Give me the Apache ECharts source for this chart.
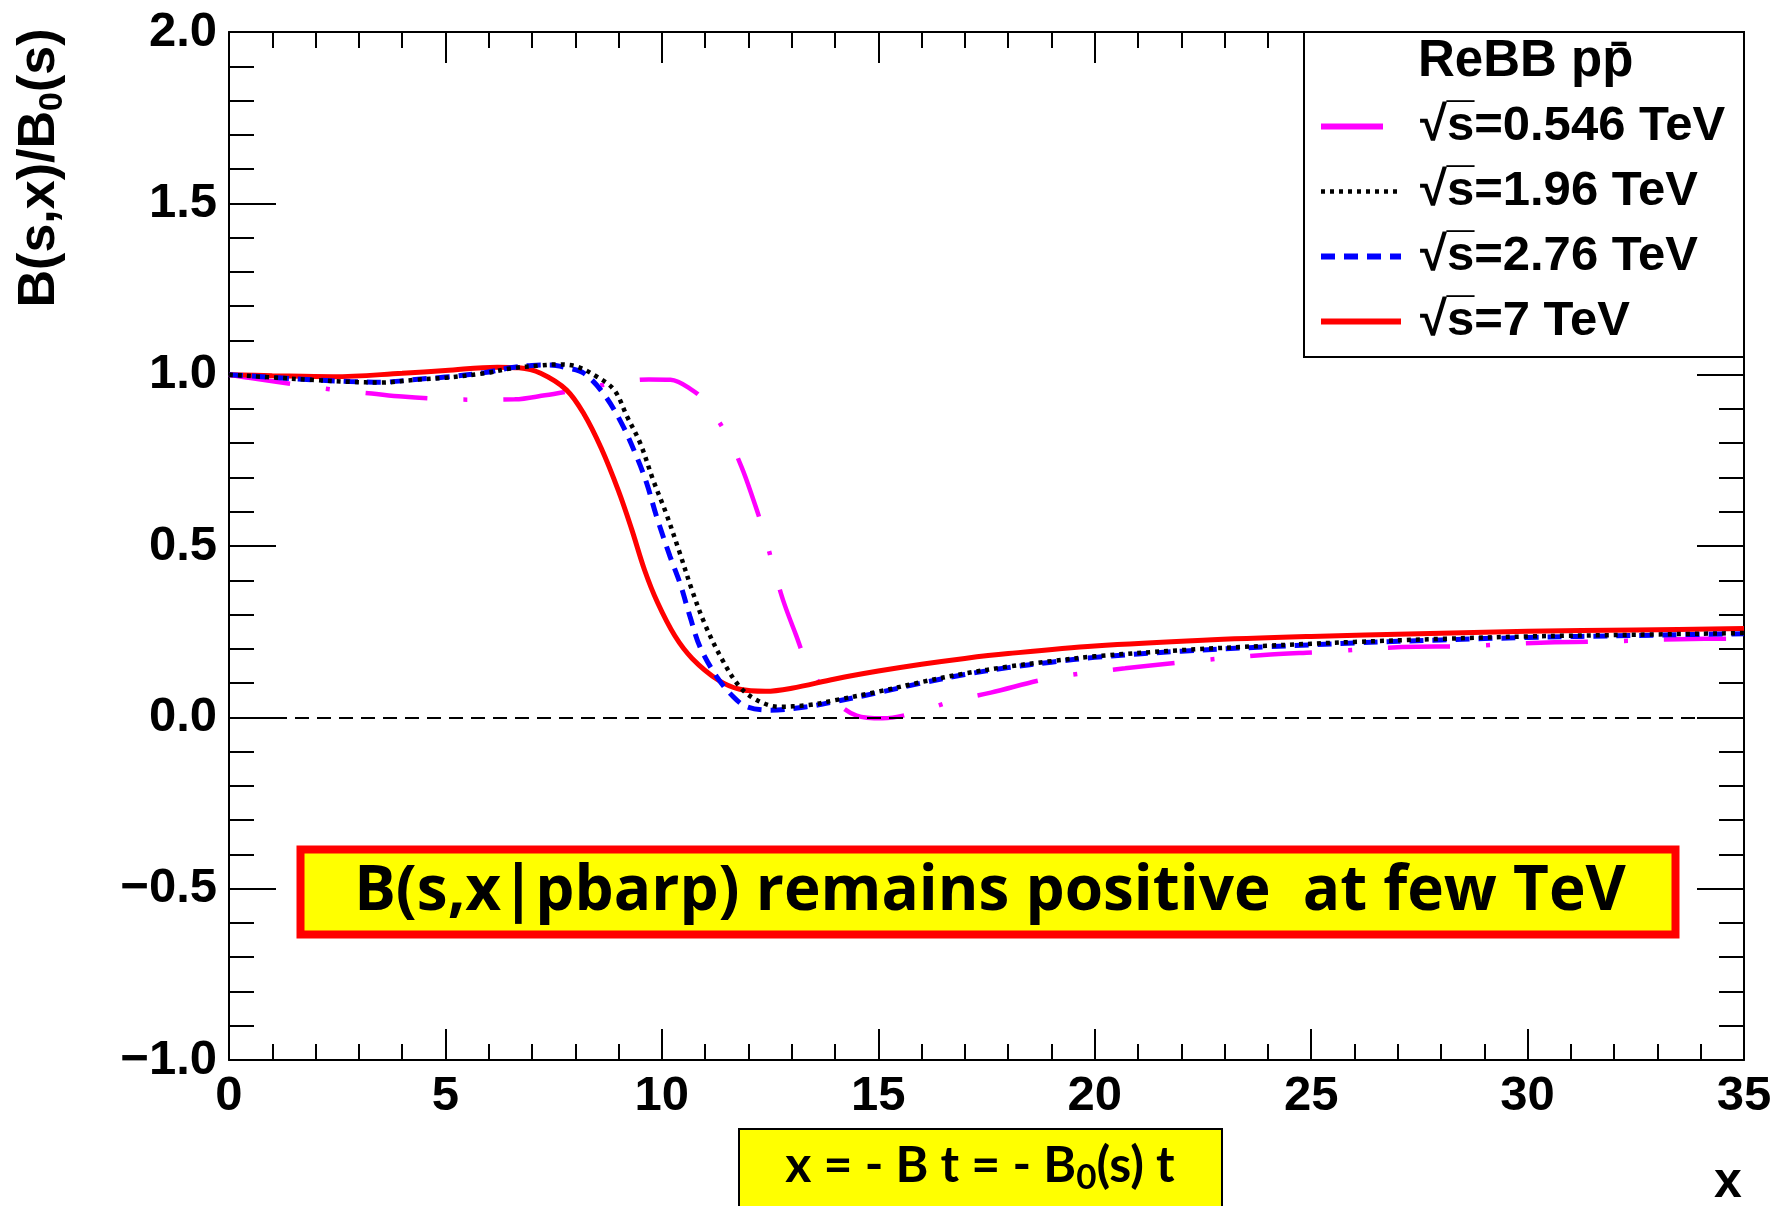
<!DOCTYPE html>
<html><head><meta charset="utf-8">
<script src="https://cdn.jsdelivr.net/npm/echarts@6/dist/echarts.min.js"></script>
<style>html,body{margin:0;padding:0;background:#fff}#c{width:1779px;height:1206px}</style>
</head><body><div id="c"></div>
<script>
// ---- data ----
const seriesNames = ['√s̅=0.546 TeV', '√s̅=1.96 TeV', '√s̅=2.76 TeV', '√s̅=7 TeV'];
const legendTitle = 'ReBB pp̄';

const x546 = [0, 0.5, 1.6, 2.5, 3.3, 4.0, 4.9, 5.7, 6.6, 7.3, 8.0, 8.9, 9.7, 10.2, 10.7, 11.0, 11.5, 11.84, 12.1, 12.34, 12.57, 12.8, 13.1, 13.35, 13.83, 14.5, 15.1, 15.8, 16.8, 17.6, 19.0, 20.7, 22.1, 23.9, 25.3, 27.1, 28.6, 30.3, 31.7, 33.5, 35.0];
const y546 = [1.0, 0.99, 0.97, 0.955, 0.945, 0.936, 0.929, 0.927, 0.928, 0.94, 0.955, 0.975, 0.986, 0.985, 0.955, 0.921, 0.824, 0.731, 0.64, 0.547, 0.442, 0.342, 0.24, 0.16, 0.07, 0.005, -0.003, 0.012, 0.05, 0.072, 0.115, 0.143, 0.162, 0.182, 0.191, 0.205, 0.208, 0.218, 0.221, 0.228, 0.23];

const x196 = [0, 1, 1.9, 2.8, 3.5, 4.3, 5.0, 5.9, 6.5, 7.2, 7.6, 8.0, 8.5, 8.9, 9.2, 9.5, 9.8, 10.1, 10.4, 10.7, 11.0, 11.4, 11.8, 12.2, 12.7, 13.4, 14.0, 15.0, 16.0, 17.0, 18.0, 19.0, 20.0, 22.0, 24.0, 26.0, 28.0, 30.0, 32.5, 35.0];
const y196 = [1.0, 0.992, 0.985, 0.979, 0.977, 0.985, 0.991, 1.004, 1.018, 1.027, 1.03, 1.025, 0.994, 0.955, 0.877, 0.80, 0.692, 0.595, 0.485, 0.37, 0.27, 0.167, 0.089, 0.05, 0.031, 0.036, 0.05, 0.075, 0.103, 0.128, 0.148, 0.164, 0.178, 0.196, 0.209, 0.22, 0.229, 0.236, 0.241, 0.246];

const x276 = [0, 1, 1.9, 2.8, 3.5, 4.3, 5.0, 5.9, 6.5, 7.0, 7.4, 7.8, 8.2, 8.65, 9.07, 9.42, 9.65, 9.88, 10.19, 10.42, 10.65, 10.88, 11.27, 11.65, 11.96, 12.5, 13.35, 14.0, 15.0, 16.0, 17.0, 18.0, 19.0, 20.0, 22.0, 24.0, 26.0, 28.0, 30.0, 32.5, 35.0];
const y276 = [1.0, 0.992, 0.985, 0.98, 0.978, 0.986, 0.993, 1.006, 1.02, 1.027, 1.028, 1.02, 1.004, 0.945, 0.858, 0.76, 0.683, 0.585, 0.469, 0.391, 0.294, 0.206, 0.118, 0.06, 0.031, 0.021, 0.031, 0.046, 0.072, 0.1, 0.125, 0.145, 0.161, 0.175, 0.193, 0.206, 0.217, 0.226, 0.233, 0.239, 0.244];

const x7 = [0, 1, 2.4, 4, 5, 6.2, 6.7, 7.2, 7.8, 8.2, 8.6, 9.0, 9.3, 9.6, 9.9, 10.3, 10.7, 11.3, 11.8, 12.4, 13.0, 14.0, 15.0, 16.0, 17.0, 18.0, 20.0, 22.5, 25.0, 27.5, 30.0, 32.5, 35.0];
const y7 = [1.0, 0.997, 0.994, 1.004, 1.012, 1.022, 1.020, 1.004, 0.955, 0.885, 0.785, 0.66, 0.55, 0.43, 0.335, 0.238, 0.172, 0.109, 0.082, 0.076, 0.085, 0.112, 0.135, 0.155, 0.172, 0.186, 0.208, 0.225, 0.236, 0.244, 0.251, 0.255, 0.259];

const xRange = [0, 35];
const yRange = [-1, 2];
const annotationText = 'B(s,x|pbarp) remains positive  at few TeV';
const xTitleBoxText = '{n|x = - B t = - B}{s|0}{n|(s) t}';
const yTitleText = '{n|B(s,x)/B}{s|0}{n|(s)}';

// ---- chart ----
const zip = (xs, ys) => xs.map((x, i) => [x, ys[i]]);
const F = 'Liberation Sans, Arial, sans-serif';
const F2 = 'Open Sans, Lato, sans-serif';
const F3 = 'Lato, Open Sans, sans-serif';
const chart = echarts.init(document.getElementById('c'), null, {renderer: 'canvas'});

function xAx(pos, showLabel) {
  return {
    type: 'value', min: xRange[0], max: xRange[1], interval: 5, position: pos,
    axisLine: {onZero: false, lineStyle: {color: '#000', width: 2}},
    axisTick: {inside: true, length: 31, lineStyle: {color: '#000', width: 2}},
    minorTick: {show: true, splitNumber: 5, length: 16, lineStyle: {color: '#000', width: 2}},
    splitLine: {show: false},
    axisLabel: {show: showLabel, margin: 12, color: '#000', fontSize: 49, fontWeight: 'bold', fontFamily: F}
  };
}
function yAx(pos, showLabel) {
  return {
    type: 'value', min: yRange[0], max: yRange[1], interval: 0.5, position: pos,
    axisLine: {onZero: false, lineStyle: {color: '#000', width: 2}},
    axisTick: {inside: true, length: 47, lineStyle: {color: '#000', width: 2}},
    minorTick: {show: true, splitNumber: 5, length: 25, lineStyle: {color: '#000', width: 2}},
    splitLine: {show: false},
    axisLabel: {show: showLabel, margin: 12, color: '#000', fontSize: 49, fontWeight: 'bold', fontFamily: F,
      formatter: v => v.toFixed(1).replace('-', '\u2212')}
  };
}

const lineCommon = {type: 'line', symbol: 'none', smooth: 0.35, silent: true, animation: false};
const colors = ['#ff00ff', '#000000', '#0000ff', '#ff0000'];

chart.setOption({
  backgroundColor: '#fff',
  animation: false,
  grid: {left: 229, right: 35, top: 32, bottom: 146},
  xAxis: [xAx('bottom', true), xAx('top', false)],
  yAxis: [yAx('left', true), yAx('right', false)],
  legend: {
    orient: 'vertical', left: 1313, top: 89, itemWidth: 80, itemHeight: 14, itemGap: 0,
    selectedMode: false, z: 10,
    itemStyle: {opacity: 0},
    textStyle: {fontSize: 49, fontWeight: 'bold', fontFamily: F, color: '#000', lineHeight: 65, padding: [0, 0, 0, 14]},
    data: [
      {name: seriesNames[0], lineStyle: {width: 6}},
      {name: seriesNames[1], lineStyle: {width: 4.5}},
      {name: seriesNames[2], lineStyle: {width: 6}},
      {name: seriesNames[3], lineStyle: {width: 6}}
    ]
  },
  series: [
    Object.assign({}, lineCommon, {name: seriesNames[0], data: zip(x546, y546), z: 2,
      itemStyle: {color: colors[0]},
      lineStyle: {color: colors[0], width: 4.5, type: [62, 36, 4, 36]},
      markLine: {silent: true, symbol: 'none', label: {show: false}, animation: false,
        lineStyle: {type: [14, 8], color: '#000', width: 2}, data: [{yAxis: 0}]}}),
    Object.assign({}, lineCommon, {name: seriesNames[3], data: zip(x7, y7), z: 3,
      itemStyle: {color: colors[3]},
      lineStyle: {color: colors[3], width: 5, type: 'solid'}}),
    Object.assign({}, lineCommon, {name: seriesNames[2], data: zip(x276, y276), z: 4,
      itemStyle: {color: colors[2]},
      lineStyle: {color: colors[2], width: 5, type: [14, 9]}}),
    Object.assign({}, lineCommon, {name: seriesNames[1], data: zip(x196, y196), z: 5,
      itemStyle: {color: colors[1]},
      lineStyle: {color: colors[1], width: 4.5, type: [4, 5]}})
  ],
  graphic: [
    {type: 'text', x: 40, y: 168, rotation: Math.PI / 2, z: 10,
      style: {text: yTitleText, align: 'center', verticalAlign: 'middle', fill: '#000',
        rich: {n: {fontSize: 52, fontWeight: 'bold', fontFamily: F, fill: '#000'},
               s: {fontSize: 34, fontWeight: 'bold', fontFamily: F, fill: '#000', padding: [26, 0, 0, 0]}}}},
    {type: 'text', x: 1728, y: 1183, z: 10,
      style: {text: 'x', align: 'center', verticalAlign: 'middle', fill: '#000', fontSize: 50, fontWeight: 'bold', fontFamily: F}},
    {type: 'rect', z: 8, shape: {x: 1304, y: 32, width: 440, height: 325},
      style: {fill: '#fff', stroke: '#000', lineWidth: 2}},
    {type: 'text', x: 1418, y: 62, z: 10,
      style: {text: legendTitle, align: 'left', verticalAlign: 'middle', fill: '#000', fontSize: 51, fontWeight: 'bold', fontFamily: F}},
    {type: 'rect', z: 8, shape: {x: 300.5, y: 849.5, width: 1375, height: 85},
      style: {fill: '#ffff00', stroke: '#ff0000', lineWidth: 8}},
    {type: 'text', x: 990, y: 892, z: 10,
      style: {text: annotationText, align: 'center', verticalAlign: 'middle', fill: '#000', fontSize: 62, fontWeight: 'bold', fontFamily: F2}},
    {type: 'rect', z: 8, shape: {x: 739, y: 1129, width: 483, height: 90},
      style: {fill: '#ffff00', stroke: '#000', lineWidth: 2}},
    {type: 'text', x: 980, y: 1166, z: 10,
      style: {text: xTitleBoxText, align: 'center', verticalAlign: 'middle', fill: '#000',
        rich: {n: {fontSize: 50, fontWeight: 'bold', fontFamily: F3, fill: '#000'},
               s: {fontSize: 35, fontWeight: 'bold', fontFamily: F3, fill: '#000', padding: [24, 0, 0, 0]}}}}
  ]
});
</script></body></html>
